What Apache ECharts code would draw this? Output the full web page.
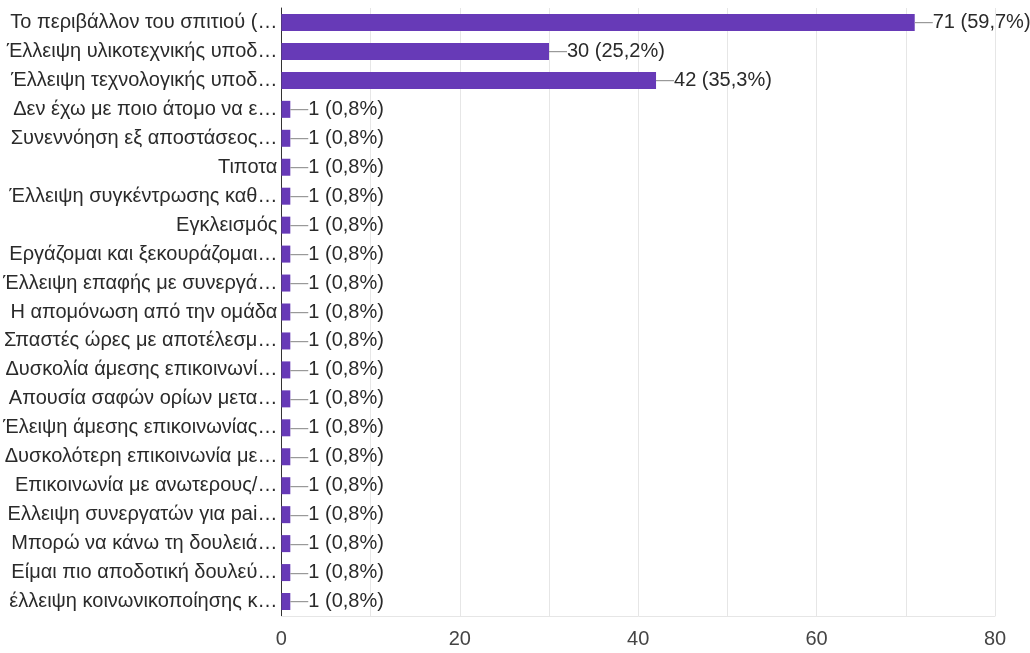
<!DOCTYPE html>
<html>
<head>
<meta charset="utf-8">
<script src="https://cdn.jsdelivr.net/npm/echarts@6/dist/echarts.min.js"></script>
<style>html,body{margin:0;padding:0;background:#fff;}#c{width:1030px;height:653px;}</style>
</head>
<body>
<div id="c"></div>
<script>
var categories = [
  "Το περιβάλλον του σπιτιού (…",
  "Έλλειψη υλικοτεχνικής υποδ…",
  "Έλλειψη τεχνολογικής υποδ…",
  "Δεν έχω με ποιο άτομο να ε…",
  "Συνεννόηση εξ αποστάσεος…",
  "Τιποτα",
  "Έλλειψη συγκέντρωσης καθ…",
  "Εγκλεισμός",
  "Εργάζομαι και ξεκουράζομαι…",
  "Έλλειψη επαφής με συνεργά…",
  "Η απομόνωση από την ομάδα",
  "Σπαστές ώρες με αποτέλεσμ…",
  "Δυσκολία άμεσης επικοινωνί…",
  "Απουσία σαφών ορίων μετα…",
  "Έλειψη άμεσης επικοινωνίας…",
  "Δυσκολότερη επικοινωνία με…",
  "Επικοινωνία με ανωτερους/…",
  "Ελλειψη συνεργατών για pai…",
  "Μπορώ να κάνω τη δουλειά…",
  "Είμαι πιο αποδοτική δουλεύ…",
  "έλλειψη κοινωνικοποίησης κ…"
];
var counts = [71, 30, 42, 1, 1, 1, 1, 1, 1, 1, 1, 1, 1, 1, 1, 1, 1, 1, 1, 1, 1];
var percents = ["59,7%", "25,2%", "35,3%", "0,8%", "0,8%", "0,8%", "0,8%", "0,8%", "0,8%", "0,8%", "0,8%", "0,8%", "0,8%", "0,8%", "0,8%", "0,8%", "0,8%", "0,8%", "0,8%", "0,8%", "0,8%"];
var xTickLabels = ["0", "20", "40", "60", "80"];

var font = "'Liberation Sans', Arial, sans-serif";
var chart = echarts.init(document.getElementById('c'), null, {renderer: 'canvas'});
chart.setOption({
  animation: false,
  backgroundColor: '#ffffff',
  grid: {left: 281, right: 35, top: 8, bottom: 37, containLabel: false},
  xAxis: {
    type: 'value', min: 0, max: 80, interval: 10,
    axisLine: {show: true, lineStyle: {color: '#e6e6e6', width: 1}},
    axisTick: {show: false},
    splitLine: {show: true, lineStyle: {color: '#e6e6e6', width: 1}},
    axisLabel: {
      fontFamily: font, fontSize: 20, color: '#444', margin: 13,
      formatter: function (v) { return xTickLabels.indexOf(String(v)) >= 0 ? String(v) : ''; }
    }
  },
  yAxis: {
    type: 'category', data: categories, inverse: true,
    axisLine: {show: true, lineStyle: {color: '#333', width: 1}},
    axisTick: {show: false},
    axisLabel: {fontFamily: font, fontSize: 20, color: '#2a2a2a', margin: 4}
  },
  series: [{
    type: 'bar',
    data: counts,
    barWidth: 17,
    itemStyle: {color: '#673ab7'},
    label: {
      show: true, position: 'right', distance: 0,
      fontFamily: font, fontSize: 20, color: '#2a2a2a',
      formatter: function (p) { return '{d|—}' + p.value + ' (' + percents[p.dataIndex] + ')'; },
      rich: {d: {color: '#999', fontFamily: font, fontSize: 18}}
    }
  }]
});
</script>
</body>
</html>
